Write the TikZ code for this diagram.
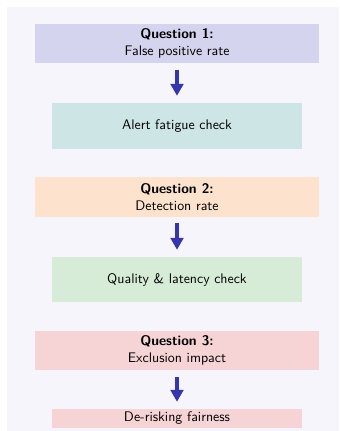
\documentclass[tikz,border=0pt]{standalone}
\usetikzlibrary{arrows.meta}
\renewcommand{\familydefault}{\sfdefault}

\definecolor{bgcol}{HTML}{F6F5FB}
\definecolor{qone}{HTML}{D5D4EE}
\definecolor{aone}{HTML}{CDE6E5}
\definecolor{qtwo}{HTML}{FDE2CD}
\definecolor{atwo}{HTML}{D6ECD6}
\definecolor{qthree}{HTML}{F6D4D5}
\definecolor{arrowcol}{HTML}{3535B0}

\tikzset{
  question/.style={rectangle, inner sep=0pt, align=center, minimum width=204.5pt, minimum height=28.3pt},
  check/.style={rectangle, inner sep=0pt, align=center, minimum width=180pt},
  flow/.style={-{Triangle[length=8.5pt,width=9pt]}, line width=2.4pt, draw=arrowcol, shorten <=4.5pt, shorten >=5pt}
}

\begin{document}
\begin{tikzpicture}[x=0.72pt, y=0.72pt]
\useasboundingbox (0,0) rectangle (339,-431);
\fill[bgcol] (7,-7) rectangle (339,-431);

\node[question, fill=qone] (q1) at (177,-43.5) {\textbf{Question 1:}\\False positive rate};
\node[check, fill=aone, minimum height=33.1pt] (a1) at (177,-126) {Alert fatigue check};
\node[question, fill=qtwo] (q2) at (177,-197) {\textbf{Question 2:}\\Detection rate};
\node[check, fill=atwo, minimum height=32.4pt] (a2) at (177,-279.5) {Quality \& latency check};
\node[question, fill=qthree] (q3) at (177,-350.5) {\textbf{Question 3:}\\Exclusion impact};
\node[check, fill=qthree, minimum height=13.7pt] (a3) at (177,-418.5) {De-risking fairness};

\draw[flow] (q1) -- (a1);
\draw[flow] (q2) -- (a2);
\draw[flow] (q3) -- (a3);
\end{tikzpicture}
\end{document}
